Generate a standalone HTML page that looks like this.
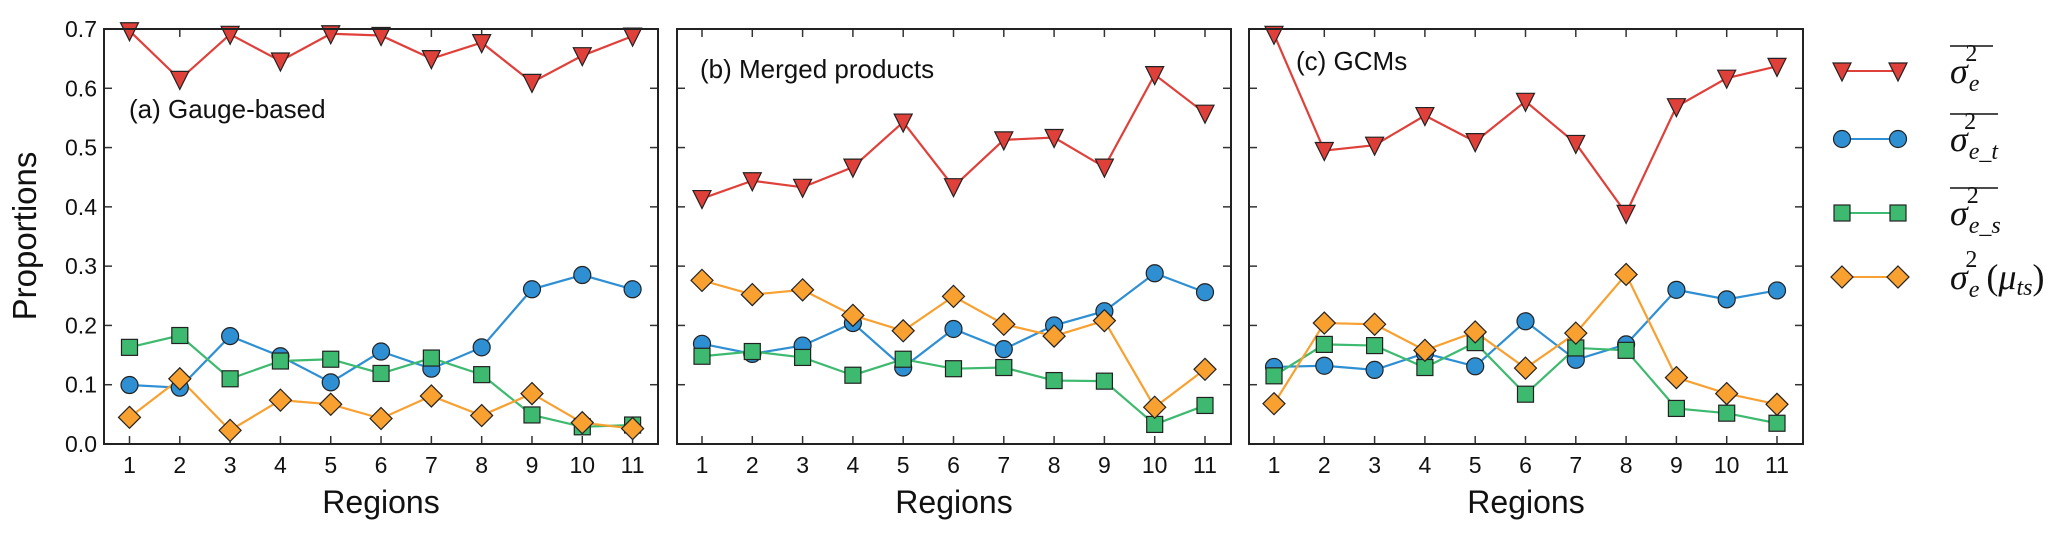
<!DOCTYPE html>
<html><head><meta charset="utf-8"><style>
html,body{margin:0;padding:0;background:#fff;}
svg{display:block;font-family:"Liberation Sans","DejaVu Sans",sans-serif;}
</style></head><body>
<svg id="chart" width="2067" height="538" viewBox="0 0 2067 538" xmlns="http://www.w3.org/2000/svg"></svg>
<script>
const regions = [1,2,3,4,5,6,7,8,9,10,11];
const yTicks = [0.0,0.1,0.2,0.3,0.4,0.5,0.6,0.7];
const panelTitles = ["(a) Gauge-based","(b) Merged products","(c) GCMs"];
const aTotal = [0.697,0.615,0.691,0.646,0.692,0.689,0.650,0.677,0.610,0.655,0.688];
const aTemporal = [0.0995,0.095,0.182,0.148,0.104,0.156,0.127,0.163,0.261,0.285,0.261];
const aSpatial = [0.163,0.183,0.110,0.140,0.143,0.119,0.145,0.117,0.049,0.029,0.032];
const aMean = [0.045,0.110,0.023,0.074,0.067,0.043,0.081,0.048,0.085,0.036,0.026];
const bTotal = [0.414,0.444,0.433,0.467,0.543,0.434,0.513,0.517,0.467,0.623,0.558];
const bTemporal = [0.169,0.152,0.166,0.204,0.129,0.194,0.160,0.200,0.224,0.288,0.256];
const bSpatial = [0.148,0.156,0.146,0.116,0.143,0.127,0.129,0.107,0.106,0.033,0.065];
const bMean = [0.276,0.252,0.260,0.217,0.191,0.249,0.202,0.182,0.208,0.062,0.126];
const cTotal = [0.691,0.495,0.504,0.554,0.510,0.578,0.507,0.389,0.569,0.617,0.637];
const cTemporal = [0.130,0.132,0.125,0.153,0.131,0.207,0.142,0.168,0.260,0.244,0.259];
const cSpatial = [0.115,0.168,0.166,0.129,0.171,0.084,0.162,0.158,0.060,0.052,0.035];
const cMean = [0.068,0.204,0.202,0.158,0.189,0.128,0.187,0.286,0.112,0.085,0.067];

const NS="http://www.w3.org/2000/svg";
const svg=document.getElementById('chart');
function mk(tag,attrs,parent){const e=document.createElementNS(NS,tag);for(const k in attrs)e.setAttribute(k,attrs[k]);(parent||svg).appendChild(e);return e;}

const panels=[
 {left:104,right:658,x1:129.5,x11:632.6,series:[aTotal,aTemporal,aSpatial,aMean],tx:129,ty:118,name:'panel-gauge-based'},
 {left:677,right:1231,x1:702,x11:1205,series:[bTotal,bTemporal,bSpatial,bMean],tx:700,ty:78,name:'panel-merged-products'},
 {left:1249,right:1803,x1:1274,x11:1777,series:[cTotal,cTemporal,cSpatial,cMean],tx:1296,ty:70,name:'panel-gcms'}
];
const plotTop=29,plotBottom=444,ymax=0.7;
const colors=['#e0403a','#2f8fd3','#3dba6f','#f8a030'];
const sNames=['total-variance','temporal-variance','spatial-variance','mean-variance'];
const shapes=['tri','circle','square','diamond'];
function yS(v){return plotBottom-(v/ymax)*(plotBottom-plotTop);}

function marker(shape,x,y,col,g){
  let e;
  if(shape==='tri') e=mk('polygon',{points:`${x-9},${y-8} ${x+9},${y-8} ${x},${y+10}`},g);
  else if(shape==='circle') e=mk('circle',{cx:x,cy:y,r:8.5},g);
  else if(shape==='square') e=mk('rect',{x:x-8,y:y-8,width:16,height:16},g);
  else e=mk('polygon',{points:`${x},${y-11} ${x+11},${y} ${x},${y+11} ${x-11},${y}`},g);
  e.setAttribute('fill',col);e.setAttribute('stroke','#222');e.setAttribute('stroke-width','1.2');
  return e;
}

panels.forEach((p,pi)=>{
  const g=mk('g',{});
  
  
  const xS=r=>p.x1+(r-1)*(p.x11-p.x1)/10;
  regions.forEach(r=>{
    const x=xS(r);
    mk('line',{x1:x,x2:x,y1:plotBottom,y2:plotBottom-8,stroke:'#333','stroke-width':1.5},g);
    mk('line',{x1:x,x2:x,y1:plotTop,y2:plotTop+8,stroke:'#333','stroke-width':1.5},g);
    const t=mk('text',{x:x,y:473,'text-anchor':'middle','font-size':23,fill:'#111'},g);
    t.textContent=r;
    
    
  });
  yTicks.forEach(v=>{
    const y=yS(v);
    mk('line',{x1:p.left,x2:p.left+8,y1:y,y2:y,stroke:'#333','stroke-width':1.5},g);
    mk('line',{x1:p.right,x2:p.right-8,y1:y,y2:y,stroke:'#333','stroke-width':1.5},g);
    if(pi===0){
      const t=mk('text',{x:97,y:y+8,'text-anchor':'end','font-size':23,fill:'#111'},g);
      t.textContent=v.toFixed(1);
      
      
    }
  });
  p.series.forEach((vals,si)=>{
    const sg=mk('g',{},g);
    
    
    const pts=vals.map((v,i)=>xS(regions[i])+','+yS(v)).join(' ');
    mk('polyline',{points:pts,fill:'none',stroke:colors[si],'stroke-width':2.2},sg);
  });
  p.series.forEach((vals,si)=>{
    vals.forEach((v,i)=>{
      const m=marker(shapes[si],xS(regions[i]),yS(v),colors[si],g);
      
      
    });
  });
  const fr=mk('rect',{x:p.left,y:plotTop,width:p.right-p.left,height:plotBottom-plotTop,fill:'none',stroke:'#222','stroke-width':2},g);
  
  
  const tt=mk('text',{x:p.tx,y:p.ty,'font-size':26,fill:'#111'},g);
  tt.textContent=panelTitles[pi];
  
  
  const xl=mk('text',{x:(p.left+p.right)/2,y:513,'text-anchor':'middle','font-size':32,fill:'#111'},g);
  xl.textContent='Regions';
  
  
});
const yl=mk('text',{x:0,y:0,'text-anchor':'middle','font-size':33,fill:'#111',transform:'translate(36,236) rotate(-90)'});
yl.textContent='Proportions';



const legY=[71,139,213,277];
const subs=['e','e_t','e_s','e'];
legY.forEach((y,i)=>{
  const g=mk('g',{});
  
  
  mk('line',{x1:1842,x2:1898,y1:y,y2:y,stroke:colors[i],'stroke-width':2},g);
  marker(shapes[i],1842,y,colors[i],g);
  marker(shapes[i],1898,y,colors[i],g);
  const t=mk('text',{x:1950,y:y+12,'font-size':36,'font-family':'"Liberation Serif","DejaVu Serif",serif','font-style':'italic',fill:'#111'},g);
  t.innerHTML='σ<tspan font-size="24" dx="1" dy="8">'+subs[i]+'</tspan><tspan font-size="24" dx="'+(-(subs[i].length*10+4))+'" dy="-30" font-style="normal">2</tspan>'+(i===3?'<tspan dy="22" font-style="normal"> (</tspan><tspan>μ</tspan><tspan font-size="24" dy="6">ts</tspan><tspan dy="-6" font-style="normal">)</tspan>':'');
  if(i<3){ mk('line',{x1:1950,x2:i===0?1993:1998,y1:y-25,y2:y-25,stroke:'#111','stroke-width':1.5},g); }
});
</script>
</body></html>
